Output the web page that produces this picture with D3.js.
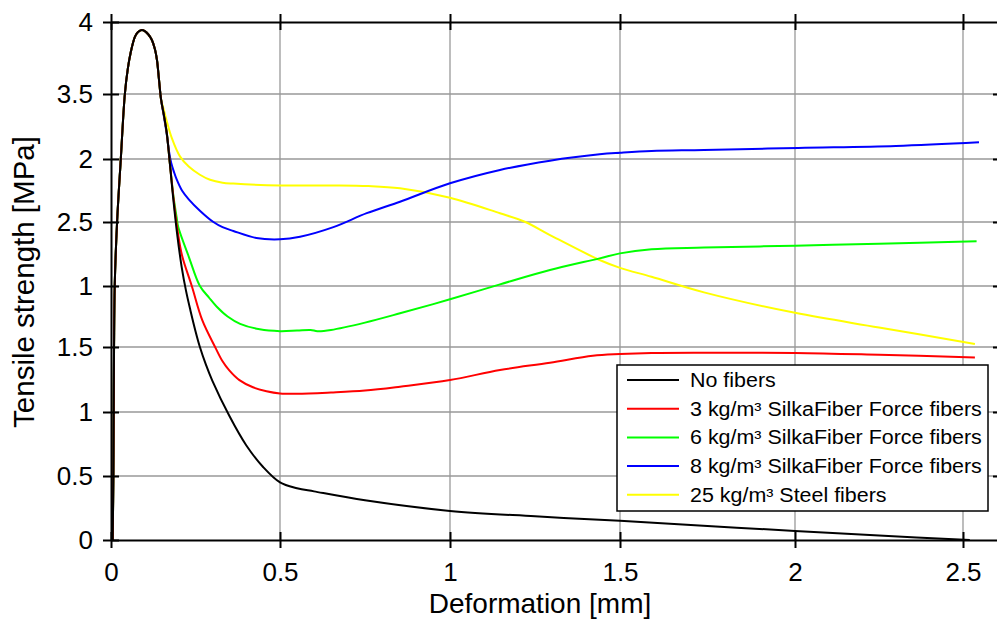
<!DOCTYPE html>
<html>
<head>
<meta charset="utf-8">
<script src="https://cdn.jsdelivr.net/npm/d3@7"></script>
<style>
  html, body { margin: 0; padding: 0; background: #fff; }
  svg { display: block; }
</style>
</head>
<body>
<script>
// ---------------- DATA ----------------
const seriesNames = [
  "No fibers",
  "3 kg/m³ SilkaFiber Force fibers",
  "6 kg/m³ SilkaFiber Force fibers",
  "8 kg/m³ SilkaFiber Force fibers",
  "25 kg/m³ Steel fibers"
];
const seriesColors = ["#000000", "#ff0000", "#00ff00", "#0000ff", "#ffff00"];

const xTickValues = [0, 0.5, 1, 1.5, 2, 2.5];
const xTickLabels = ["0", "0.5", "1", "1.5", "2", "2.5"];
const yTickValues = [0, 0.5, 1, 1.5, 2, 2.5, 3, 3.5, 4];
const yTickLabels = ["0", "0.5", "1", "1.5", "1", "2.5", "2", "3.5", "4"];

const xTitle = "Deformation [mm]";
const yTitle = "Tensile strength [MPa]";

// [deformation mm, tensile strength MPa]
const noFibers = [
  [0.005,0],[0.007,0.5],[0.008,1.0],[0.009,1.5],[0.011,2.0],[0.018,2.5],[0.029,3.0],[0.041,3.5],
  [0.05,3.68],[0.058,3.785],[0.071,3.898],[0.08,3.93],[0.091,3.944],[0.10,3.937],[0.11,3.915],
  [0.121,3.875],[0.13,3.81],[0.136,3.736],[0.142,3.6],[0.148,3.46],
  [0.157,3.33],[0.165,3.2],[0.174,2.97],[0.184,2.69],[0.196,2.4],[0.209,2.15],[0.222,1.96],
  [0.235,1.8],[0.25,1.63],[0.263,1.5],[0.28,1.37],[0.30,1.24],[0.35,0.97],[0.40,0.74],
  [0.45,0.57],[0.5,0.45],[0.55,0.405],[0.6,0.38],[0.75,0.31],[1.0,0.227],[1.25,0.185],
  [1.5,0.15],[1.75,0.11],[2.0,0.07],[2.25,0.035],[2.52,0.0]
];
const fiber3 = [
  [0.005,0],[0.007,0.5],[0.008,1.0],[0.009,1.5],[0.011,2.0],[0.018,2.5],[0.029,3.0],[0.041,3.5],
  [0.05,3.68],[0.058,3.785],[0.071,3.898],[0.08,3.93],[0.091,3.944],[0.10,3.937],[0.11,3.915],
  [0.121,3.875],[0.13,3.81],[0.136,3.736],[0.142,3.6],[0.148,3.46],
  [0.157,3.33],[0.165,3.2],[0.174,2.97],[0.184,2.71],[0.196,2.45],[0.21,2.24],[0.239,2.0],
  [0.27,1.72],[0.308,1.5],[0.33,1.39],[0.35,1.32],[0.38,1.245],[0.42,1.19],[0.46,1.16],
  [0.5,1.143],[0.55,1.14],[0.65,1.15],[0.75,1.165],[0.853,1.195],[1.0,1.246],[1.147,1.323],
  [1.294,1.379],[1.42,1.433],[1.5,1.446],[1.59,1.454],[1.74,1.456],[2.0,1.454],[2.25,1.44],
  [2.535,1.42]
];
const fiber6 = [
  [0.005,0],[0.007,0.5],[0.008,1.0],[0.009,1.5],[0.011,2.0],[0.018,2.5],[0.029,3.0],[0.041,3.5],
  [0.05,3.68],[0.058,3.785],[0.071,3.898],[0.08,3.93],[0.091,3.944],[0.10,3.937],[0.11,3.915],
  [0.121,3.875],[0.13,3.81],[0.136,3.736],[0.142,3.6],[0.148,3.46],
  [0.157,3.33],[0.165,3.2],[0.174,2.97],[0.184,2.72],[0.194,2.54],[0.199,2.46],[0.23,2.23],
  [0.263,2.0],[0.29,1.905],[0.313,1.83],[0.345,1.75],[0.382,1.69],[0.44,1.645],[0.5,1.63],
  [0.55,1.635],[0.59,1.64],[0.61,1.63],[0.65,1.64],[0.75,1.7],[0.853,1.776],[1.0,1.891],
  [1.147,2.013],[1.294,2.125],[1.44,2.216],[1.5,2.255],[1.59,2.287],[1.74,2.30],[2.0,2.315],
  [2.25,2.33],[2.54,2.35]
];
const fiber8 = [
  [0.005,0],[0.007,0.5],[0.008,1.0],[0.009,1.5],[0.011,2.0],[0.018,2.5],[0.029,3.0],[0.041,3.5],
  [0.05,3.68],[0.058,3.785],[0.071,3.898],[0.08,3.93],[0.091,3.944],[0.10,3.937],[0.11,3.915],
  [0.121,3.875],[0.13,3.81],[0.136,3.736],[0.142,3.6],[0.148,3.46],
  [0.157,3.32],[0.165,3.19],[0.171,3.07],[0.178,2.97],[0.186,2.9],[0.194,2.84],[0.21,2.75],
  [0.23,2.68],[0.263,2.59],[0.303,2.5],[0.33,2.46],[0.362,2.43],[0.43,2.375],[0.5,2.365],
  [0.559,2.385],[0.657,2.46],[0.755,2.57],[0.853,2.661],[1.0,2.807],[1.147,2.913],[1.294,2.987],
  [1.44,3.036],[1.5,3.048],[1.59,3.062],[1.74,3.069],[2.01,3.085],[2.3,3.10],[2.547,3.128]
];
const steel25 = [
  [0.005,0],[0.007,0.5],[0.008,1.0],[0.009,1.5],[0.011,2.0],[0.018,2.5],[0.029,3.0],[0.041,3.5],
  [0.05,3.68],[0.058,3.785],[0.071,3.898],[0.08,3.93],[0.091,3.944],[0.10,3.937],[0.11,3.915],
  [0.121,3.875],[0.13,3.81],[0.136,3.736],[0.142,3.6],[0.148,3.46],
  [0.155,3.39],[0.165,3.29],[0.18,3.16],[0.204,3.02],[0.23,2.94],[0.263,2.875],[0.293,2.835],
  [0.33,2.812],[0.362,2.805],[0.5,2.79],[0.657,2.79],[0.76,2.785],[0.853,2.767],[1.0,2.693],
  [1.147,2.569],[1.22,2.502],[1.294,2.398],[1.44,2.203],[1.5,2.142],[1.59,2.072],[1.74,1.948],
  [2.0,1.78],[2.25,1.66],[2.535,1.525]
];
const seriesData = [noFibers, fiber3, fiber6, fiber8, steel25];

// ---------------- LAYOUT ----------------
const W = 997, H = 621;
const FONT = "'Liberation Sans', Arial, Helvetica, sans-serif";

const svg = d3.select("body").append("svg")
  .attr("width", W).attr("height", H)
  .style("font-family", FONT);

// The reference grid is slightly non-uniform; piecewise-linear scales reproduce it.
const x = d3.scaleLinear()
  .domain([0, 0.5, 1, 1.5, 2, 2.5, 2.6])
  .range([111, 280, 450, 620, 795, 963, 997]);
const y = d3.scaleLinear()
  .domain([0, 0.5, 1, 1.5, 2, 2.5, 3, 3.5, 4])
  .range([540, 476, 412, 347, 286, 222, 159, 94, 22]);

const xMax = 2.6, yMax = 4;

// grid
const grid = svg.append("g").attr("stroke", "#999").attr("stroke-width", 1.3);
grid.selectAll("line.vx").data(xTickValues.filter(d => d > 0)).join("line")
  .attr("x1", d => x(d)).attr("x2", d => x(d))
  .attr("y1", y(0)).attr("y2", y(yMax));
grid.selectAll("line.hy").data(yTickValues.filter(d => d > 0 && d < yMax)).join("line")
  .attr("x1", x(0)).attr("x2", x(xMax))
  .attr("y1", d => y(d)).attr("y2", d => y(d));

// curves (black on top)
const line = d3.line()
  .x(d => x(d[0])).y(d => y(d[1]))
  .curve(d3.curveCatmullRom.alpha(0.5));
const order = [4, 3, 2, 1, 0];
svg.append("g").selectAll("path").data(order).join("path")
  .attr("d", i => line(seriesData[i]))
  .attr("fill", "none")
  .attr("stroke", i => seriesColors[i])
  .attr("stroke-width", 2)
  .attr("stroke-linejoin", "round");

// axes
function styleAxis(g) {
  g.selectAll("path.domain").attr("stroke", "#000").attr("stroke-width", 2);
  g.selectAll(".tick line").attr("stroke", "#000").attr("stroke-width", 2);
  g.selectAll(".tick text").attr("fill", "#000").style("font-family", FONT);
}
// bottom
const gb = svg.append("g").attr("transform", `translate(0,${y(0)})`)
  .call(d3.axisBottom(x).tickValues(xTickValues).tickSize(8).tickSizeOuter(0)
    .tickFormat((d, i) => xTickLabels[i]));
gb.selectAll(".tick text").attr("y", 41).attr("dy", 0).attr("font-size", 26);
styleAxis(gb);
const gb2 = svg.append("g").attr("transform", `translate(0,${y(0)})`)
  .call(d3.axisTop(x).tickValues(xTickValues).tickSize(8).tickSizeOuter(0).tickFormat(""));
gb2.select("path.domain").remove();
styleAxis(gb2);
// top
const gt = svg.append("g").attr("transform", `translate(0,${y(yMax)})`)
  .call(d3.axisTop(x).tickValues(xTickValues).tickSize(8).tickSizeOuter(0).tickFormat(""));
styleAxis(gt);
const gt2 = svg.append("g").attr("transform", `translate(0,${y(yMax)})`)
  .call(d3.axisBottom(x).tickValues(xTickValues).tickSize(8).tickSizeOuter(0).tickFormat(""));
gt2.select("path.domain").remove();
styleAxis(gt2);
// left
const gl = svg.append("g").attr("transform", `translate(${x(0)},0)`)
  .call(d3.axisLeft(y).tickValues(yTickValues).tickSize(8).tickSizeOuter(0)
    .tickPadding(10).tickFormat((d, i) => yTickLabels[i]));
gl.selectAll(".tick text").attr("font-size", 26);
styleAxis(gl);
const gl2 = svg.append("g").attr("transform", `translate(${x(0)},0)`)
  .call(d3.axisRight(y).tickValues(yTickValues).tickSize(8).tickSizeOuter(0).tickFormat(""));
gl2.select("path.domain").remove();
styleAxis(gl2);
// right (ticks pointing inward at the cropped right edge)
const gr = svg.append("g").attr("transform", `translate(${W + 4},0)`)
  .call(d3.axisLeft(y).tickValues(yTickValues.filter(d => d > 0 && d < yMax)).tickSize(8).tickSizeOuter(0).tickFormat(""));
gr.select("path.domain").remove();
styleAxis(gr);

// titles
svg.append("text")
  .attr("x", 540).attr("y", 613)
  .attr("text-anchor", "middle")
  .attr("font-size", 28)
  .attr("fill", "#000")
  .text(xTitle);
svg.append("text")
  .attr("transform", "translate(34,282) rotate(-90)")
  .attr("text-anchor", "middle")
  .attr("font-size", 29.5)
  .attr("fill", "#000")
  .text(yTitle);

// legend
const lg = svg.append("g");
lg.append("rect")
  .attr("x", 617).attr("y", 365).attr("width", 371).attr("height", 146)
  .attr("fill", "#fff").attr("stroke", "#000").attr("stroke-width", 1.5);
const rows = lg.selectAll("g.row").data(seriesNames).join("g")
  .attr("transform", (d, i) => `translate(0,${380 + i * 28.7})`);
rows.append("line")
  .attr("x1", 627).attr("x2", 679).attr("y1", 0).attr("y2", 0)
  .attr("stroke", (d, i) => seriesColors[i]).attr("stroke-width", 2);
rows.append("text")
  .attr("transform", "translate(690,0) scale(1.1,1)")
  .attr("dy", "0.36em")
  .attr("font-size", 19.5)
  .attr("fill", "#000")
  .text(d => d);
</script>
</body>
</html>
